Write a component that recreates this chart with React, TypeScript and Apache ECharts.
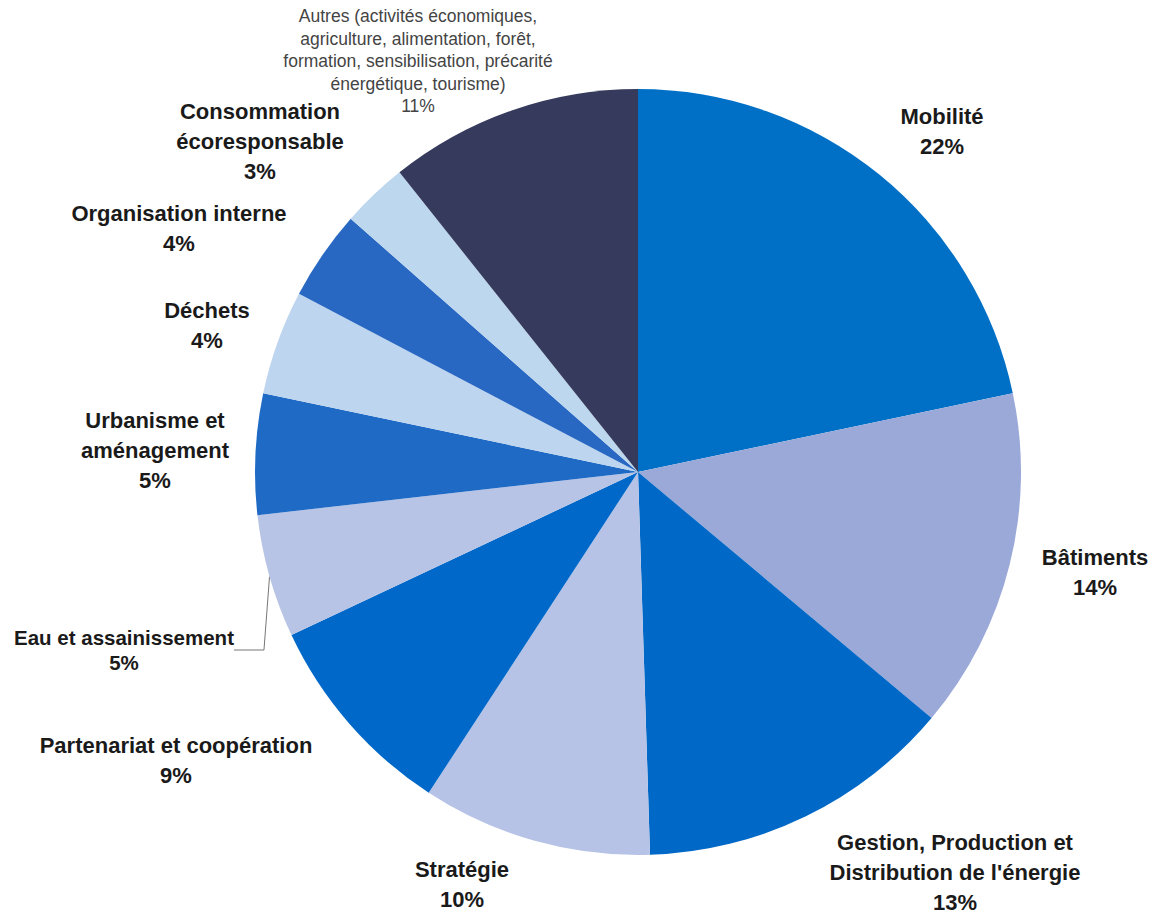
import React, { useEffect, useRef } from "react";
import * as echarts from "echarts";

const categories = [
  "Mobilité",
  "Bâtiments",
  "Gestion, Production et\nDistribution de l'énergie",
  "Stratégie",
  "Partenariat et coopération",
  "Eau et assainissement",
  "Urbanisme et\naménagement",
  "Déchets",
  "Organisation interne",
  "Consommation\nécoresponsable",
  "Autres (activités économiques,\nagriculture, alimentation, forêt,\nformation, sensibilisation, précarité\nénergétique, tourisme)",
];
const values = [21.7, 14.4, 13.4, 9.7, 8.8, 5.2, 5.1, 4.4, 3.8, 2.8, 10.7];
const colors = [
  "#0070C6", "#9AA9D8", "#0068C6", "#B7C3E6", "#0068C8", "#B8C4E5",
  "#1F6AC5", "#BDD5EE", "#2868C3", "#BDD7EE", "#363A5C",
];
// label anchor positions (styling)
const labelPos: [number, number][] = [
  [942, 131], [1095, 572], [955, 872], [462, 884], [176, 760], [124, 650],
  [155, 450], [207, 325], [179, 228], [260, 141], [418, 61],
];

export default function App() {
  const ref = useRef<HTMLDivElement>(null);
  useEffect(() => {
    document.body.style.margin = "0";
    const chart = echarts.init(ref.current!, undefined, { renderer: "svg" });
    const data = categories.map((name, i) => {
      const item: any = { name, value: values[i], itemStyle: { color: colors[i] } };
      if (i === 5) {
        item.label = { fontSize: 20.5, lineHeight: 25 };
        item.labelLine = { show: true, lineStyle: { color: "#777", width: 1 } };
      }
      if (i === 10) {
        item.label = { fontWeight: "normal", fontSize: 17.5, lineHeight: 22.5, color: "#444" };
      }
      return item;
    });
    chart.setOption({
      animation: false,
      backgroundColor: "#fff",
      series: [
        {
          type: "pie",
          center: [638, 472],
          radius: 383,
          startAngle: 90,
          clockwise: true,
          data,
          label: {
            show: true,
            position: "outside",
            formatter: (p: any) => `${p.name}\n${Math.round(p.value)}%`,
            fontFamily: "Liberation Sans, Arial, sans-serif",
            fontWeight: "bold",
            fontSize: 22,
            lineHeight: 30,
            color: "#1a1a1a",
            align: "center",
            overflow: "none",
          },
          labelLine: { show: false },
          labelLayout: (params: any) => {
            const p = labelPos[params.dataIndex];
            return { x: p[0], y: p[1], align: "center", verticalAlign: "middle" };
          },
        },
      ],
    });
    return () => chart.dispose();
  }, []);
  return <div ref={ref} style={{ width: 1155, height: 913 }} />;
}
